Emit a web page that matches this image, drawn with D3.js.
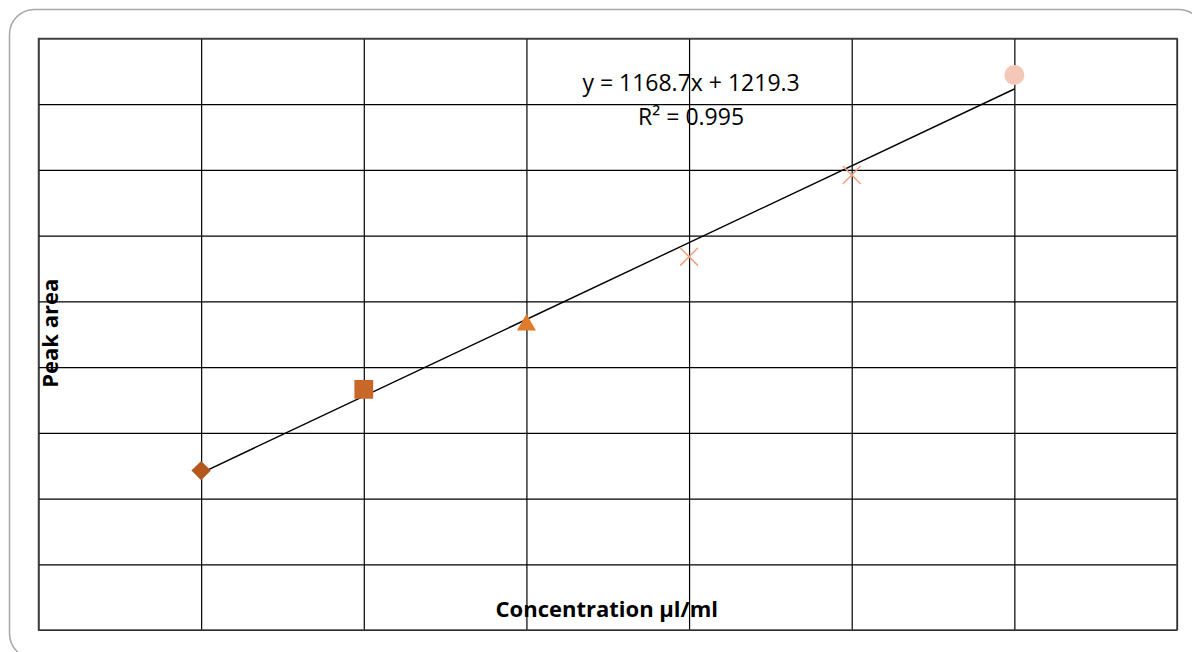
<!DOCTYPE html>
<html>
<head>
<meta charset="utf-8">
<script src="https://cdn.jsdelivr.net/npm/d3@7"></script>
<style>
  body{margin:0;background:#fff;}
  svg{display:block;}
  .grid line{stroke:#000;stroke-width:1.2;}
  .grid path{display:none;}
  text{font-family:'Open Sans', Lato, sans-serif;fill:#000;}
</style>
</head>
<body>
<div id="chartDiv"></div>
<script>
// data
var concentration=[1,2,3,4,5,6];
var peakArea=[2425,3662,4671,5680,6923,8445];
var markerShapes=["diamond","square","triangle","cross","cross","circle"];
var markerColors=["#b4581e","#c9662a","#e07b2c","#f4a07e","#f4a07e","#f5c7b8"];
var xTicks=[0,1,2,3,4,5,6,7];
var yTicks=[0,1000,2000,3000,4000,5000,6000,7000,8000,9000];
var trendSlope=1168.7, trendIntercept=1219.3;
var equationText="y = 1168.7x + 1219.3";
var rSquaredText="R² = 0.995";

var width=1192,height=652;
var margin={top:38.5,right:15,bottom:22,left:38.5};
var plotW=width-margin.left-margin.right,
    plotH=height-margin.top-margin.bottom;

var svg=d3.select("#chartDiv").append("svg")
    .attr("width",width)
    .attr("height",height);

// outer rounded frame
svg.append("rect")
    .attr("x",9.5).attr("y",9.5)
    .attr("width",1194).attr("height",649)
    .attr("rx",25).attr("ry",25)
    .attr("fill","#fff")
    .attr("stroke","#a6a6a6")
    .attr("stroke-width",1.5);

var g=svg.append("g")
    .attr("transform","translate("+margin.left+","+margin.top+")");

var xScale=d3.scaleLinear().domain([0,7]).range([0,plotW]);
var yScale=d3.scaleLinear().domain([0,9000]).range([plotH,0]);

// gridlines
g.append("g").attr("class","grid")
    .attr("transform","translate(0,"+plotH+")")
    .call(d3.axisBottom(xScale).tickValues(xTicks).tickSize(-plotH).tickFormat(""));
g.append("g").attr("class","grid")
    .call(d3.axisLeft(yScale).tickValues(yTicks).tickSize(-plotW).tickFormat(""));

// plot border
g.append("rect")
    .attr("width",plotW).attr("height",plotH)
    .attr("fill","none")
    .attr("stroke","#404040")
    .attr("stroke-width",1.5);

// axis titles
g.append("text")
    .attr("x",plotW/2-1).attr("y",plotH-13)
    .attr("text-anchor","middle")
    .style("font-weight","bold")
    .style("font-size","22px")
    .text("Concentration μl/ml");

g.append("text")
    .attr("transform","translate("+(19)+","+(plotH/2-1)+") rotate(-90)")
    .attr("text-anchor","middle")
    .style("font-weight","bold")
    .style("font-size","22px")
    .text("Peak area");

// trendline
var xMin=d3.min(concentration),xMax=d3.max(concentration);
g.append("line")
    .attr("x1",xScale(xMin)).attr("y1",yScale(trendSlope*xMin+trendIntercept))
    .attr("x2",xScale(xMax)).attr("y2",yScale(trendSlope*xMax+trendIntercept))
    .attr("stroke","#000")
    .attr("stroke-width",1.4);

// markers
var symbolType={
    diamond:d3.symbolSquare2,
    square:d3.symbolSquare2,
    triangle:d3.symbolTriangle2,
    cross:d3.symbolX,
    circle:d3.symbolCircle
};
var symbolSize={diamond:240,square:450,triangle:258,cross:210,circle:314};

var points=concentration.map(function(c,i){
    return {x:c,y:peakArea[i],shape:markerShapes[i],color:markerColors[i]};
});

g.selectAll(".marker")
    .data(points)
    .enter()
    .append("path")
    .attr("class","marker")
    .attr("transform",function(d){
        var t="translate("+xScale(d.x)+","+(yScale(d.y)+(d.shape==="triangle"?2:0))+")";
        if(d.shape==="diamond") t+=" rotate(45)";
        return t;
    })
    .attr("d",function(d){
        return d3.symbol().type(symbolType[d.shape]).size(symbolSize[d.shape])();
    })
    .attr("fill",function(d){ return d.shape==="cross"?"none":d.color; })
    .attr("stroke",function(d){ return d.shape==="cross"?d.color:"none"; })
    .attr("stroke-width",1.5);

// equation label
var labelX=xScale(4)+2;
g.append("text")
    .attr("x",labelX).attr("y",yScale(8000)-13)
    .attr("text-anchor","middle")
    .style("font-size","23px")
    .text(equationText);
g.append("text")
    .attr("x",labelX).attr("y",yScale(8000)+21)
    .attr("text-anchor","middle")
    .style("font-size","23px")
    .text(rSquaredText);
</script>
</body>
</html>
